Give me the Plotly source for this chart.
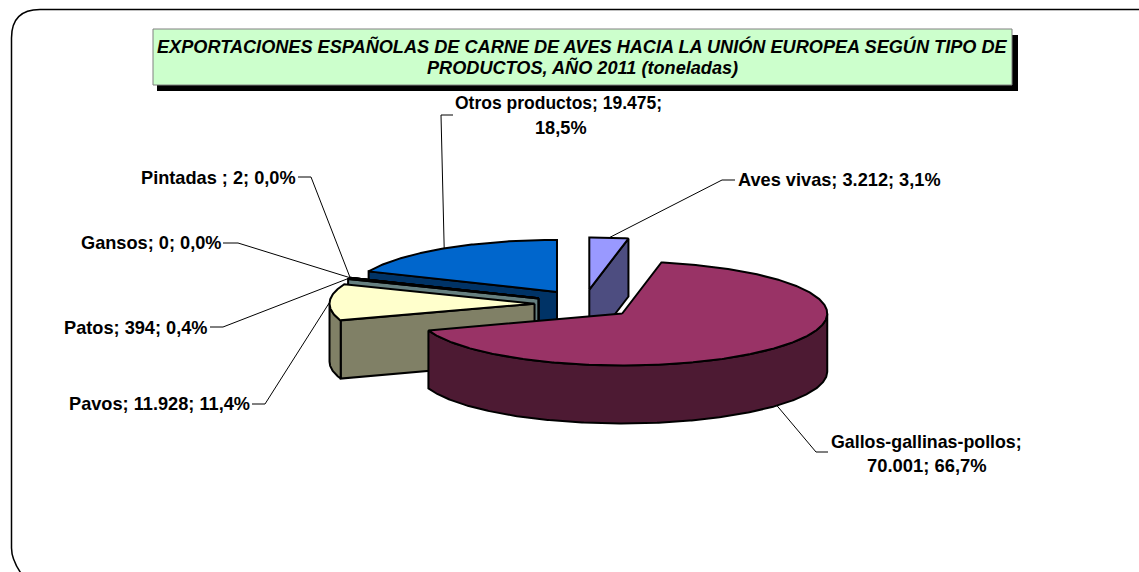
import math
import plotly.graph_objects as go

# ---- data ----
categories = ["Aves vivas", "Gallos-gallinas-pollos", "Pavos", "Patos", "Gansos", "Pintadas ", "Otros productos"]
values = [3212, 70001, 11928, 394, 0, 2, 19475]
value_labels = ["3.212", "70.001", "11.928", "394", "0", "2", "19.475"]
pct_labels = ["3,1%", "66,7%", "11,4%", "0,4%", "0,0%", "0,0%", "18,5%"]
top_colors = ["#9999FF", "#993366", "#FFFFCC", "#CCFFFF", "#660066", "#FF8080", "#0066CC"]
side_colors = ["#4D4D80", "#4D1A33", "#808066", "#668080", "#330033", "#804040", "#003366"]
title_lines = ["EXPORTACIONES ESPAÑOLAS DE CARNE DE AVES HACIA LA UNIÓN EUROPEA SEGÚN TIPO DE",
               "PRODUCTOS, AÑO 2011 (toneladas)"]

# ---- projection of the tilted pie onto the (pixel-sized) axes ----
W, H = 1139, 572
CX, CY = 584.5, 304
RX, RY = 205, 52
DEPTH = 58
EXPLODE = 50
EXPLODE_Y = 0.29
FONT = "Liberation Sans, Arial, sans-serif"
LABEL_SIZE = 18.2
TITLE_SIZE = 18.15

total = sum(values)
spans = []
acc = 0.0
for v in values:
    a0 = acc / total * 360
    acc += v
    spans.append((a0, acc / total * 360))


def apex_of(t0, t1):
    m = math.radians((t0 + t1) / 2)
    return CX + EXPLODE * math.sin(m), CY - EXPLODE * EXPLODE_Y * math.cos(m)


def on_rim(ax, ay, deg, drop=0):
    r = math.radians(deg)
    return ax + RX * math.sin(r), ay - RY * math.cos(r) + drop


def arc(ax, ay, t0, t1, drop=0):
    n = max(2, int(abs(t1 - t0) * 2) + 1)
    return [on_rim(ax, ay, t0 + (t1 - t0) * i / (n - 1), drop) for i in range(n)]


fig = go.Figure()


def poly(pts, color, width=2):
    pts = list(pts) + [pts[0]]
    fig.add_trace(go.Scatter(x=[p[0] for p in pts], y=[p[1] for p in pts], mode="lines",
                             fill="toself", fillcolor=color,
                             line=dict(color="black", width=width),
                             showlegend=False, hoverinfo="skip"))


def wedge(i):
    t0, t1 = spans[i]
    ax, ay = apex_of(t0, t1)
    top, side = top_colors[i], side_colors[i]
    if math.sin(math.radians(t0)) < -1e-6:
        a, b = (ax, ay), on_rim(ax, ay, t0)
        poly([a, b, (b[0], b[1] + DEPTH), (a[0], a[1] + DEPTH)], side)
    if math.sin(math.radians(t1)) > 1e-6:
        a, b = (ax, ay), on_rim(ax, ay, t1)
        poly([a, b, (b[0], b[1] + DEPTH), (a[0], a[1] + DEPTH)], side)
    lo, hi = max(t0, 90), min(t1, 270)
    if hi > lo:
        poly(arc(ax, ay, lo, hi) + arc(ax, ay, hi, lo, DEPTH), side)
    poly([(ax, ay)] + arc(ax, ay, t0, t1), top)


for idx in [0, 6, 5, 4, 3, 2, 1]:
    wedge(idx)

# ---- leader lines: label side -> slice ----
gather = on_rim(*apex_of(*spans[5]), spans[5][0])


def rim_mid(i, drop=0):
    t0, t1 = spans[i]
    return on_rim(*apex_of(t0, t1), (t0 + t1) / 2, drop)


leaders = {
    0: ([(735, 180), (722, 180)], rim_mid(0)),
    1: ([(828, 452), (816, 452)], rim_mid(1, DEPTH)),
    2: ([(252, 404), (265, 404)], rim_mid(2)),
    3: ([(210, 327), (223, 327)], gather),
    4: ([(223, 243), (238, 243)], gather),
    5: ([(298, 177), (311, 177)], gather),
    6: ([(453, 115), (441, 115)], rim_mid(6)),
}
for i, (pts, end) in leaders.items():
    pts = pts + [end]
    fig.add_trace(go.Scatter(x=[p[0] for p in pts], y=[p[1] for p in pts], mode="lines",
                             line=dict(color="black", width=1),
                             showlegend=False, hoverinfo="skip"))


def label(x, y, text, anchor="center", size=LABEL_SIZE):
    fig.add_annotation(x=x, y=y, xref="x", yref="y", text=f"<b>{text}</b>", showarrow=False,
                       xanchor=anchor, yanchor="middle", xshift=0,
                       font=dict(family=FONT, size=size, color="black"))


def lab(i):
    return f"{categories[i]}; {value_labels[i]}; {pct_labels[i]}"


label(736, 180, lab(0), "left")
label(926.5, 442, f"{categories[1]};", size=17.8)
label(927, 465, f"{value_labels[1]}; {pct_labels[1]}", size=18.4)
label(252, 404, lab(2), "right")
label(210, 328, lab(3), "right")
label(224, 243, lab(4), "right")
label(298, 178, lab(5), "right")
label(558.5, 103, f"{categories[6]}; {value_labels[6]};", size=17.5)
label(561, 128, pct_labels[6])

# ---- title box ----
BOX = (153, 29, 1012, 85)
SHADOW = 6
shapes = [
    dict(type="rect", xref="x", yref="y", x0=BOX[0] + SHADOW - 2, y0=BOX[1] + SHADOW, x1=BOX[2] + SHADOW,
         y1=BOX[3] + SHADOW, fillcolor="black", line=dict(color="black", width=0), layer="above"),
    dict(type="rect", xref="x", yref="y", x0=BOX[0], y0=BOX[1], x1=BOX[2], y1=BOX[3],
         fillcolor="#CCFFCC", line=dict(color="#808080", width=1), layer="above"),
    # outer rounded frame, cropped by the picture on the right and bottom
    dict(type="path", xref="x", yref="y", layer="below",
         path="M 1180 9.5 L 40 9.5 Q 11.5 9.5 11.5 38 L 11.5 548 Q 11.5 562 26 580",
         line=dict(color="black", width=1.5), fillcolor="rgba(0,0,0,0)"),
]
fig.add_annotation(x=582, y=46, xref="x", yref="y", text=f"<b><i>{title_lines[0]}</i></b>", showarrow=False,
                   font=dict(family=FONT, size=TITLE_SIZE, color="black"))
fig.add_annotation(x=582, y=67, xref="x", yref="y", text=f"<b><i>{title_lines[1]}</i></b>", showarrow=False,
                   font=dict(family=FONT, size=TITLE_SIZE, color="black"))

fig.update_layout(width=W, height=H, margin=dict(l=0, r=0, t=0, b=0),
                  paper_bgcolor="white", plot_bgcolor="white", shapes=shapes, showlegend=False,
                  xaxis=dict(visible=False, range=[0, W], fixedrange=True),
                  yaxis=dict(visible=False, range=[H, 0], fixedrange=True))

fig.write_html("out.html", config=dict(displayModeBar=False),
               post_script="document.body.style.margin='0';document.body.style.overflow='hidden';")
